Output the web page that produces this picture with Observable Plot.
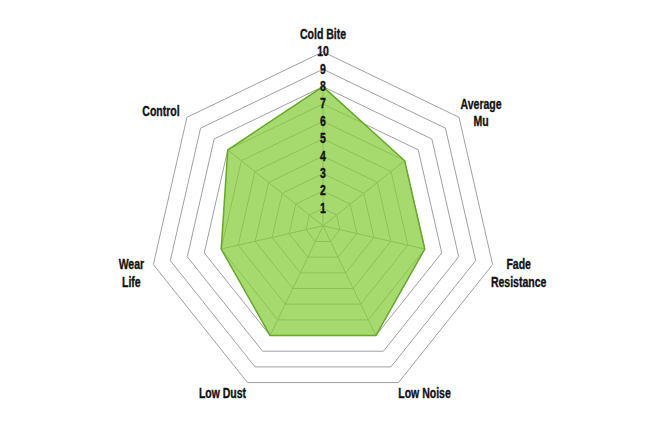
<!DOCTYPE html>
<html>
<head>
<meta charset="utf-8">
<script src="https://cdn.jsdelivr.net/npm/d3@7"></script>
<script src="https://cdn.jsdelivr.net/npm/@observablehq/plot@0.6"></script>
<style>
  html, body { margin: 0; padding: 0; background: #fff; }
  #chart svg { display: block; }
</style>
</head>
<body>
<div id="chart"></div>
<script>
// ---- data ----
const axisLabels = ["Cold Bite", "Average\nMu", "Fade\nResistance", "Low Noise", "Low Dust", "Wear\nLife", "Control"];
const scores = [8, 6, 6, 7, 7, 6, 7];
const tickValues = [1, 2, 3, 4, 5, 6, 7, 8, 9, 10];
const maxScore = 10;

// ---- layout ----
const W = 645, H = 430;
const unit = 17.4;            // px per score unit
const cx = 322.5, cy = 225.3; // pixel centre
const n = axisLabels.length;
const angle = i => (2 * Math.PI * i) / n;
const px = (i, r) => r * Math.sin(angle(i));
const py = (i, r) => r * Math.cos(angle(i));

// rings
const rings = [];
for (const t of tickValues) {
  for (let i = 0; i <= n; i++) rings.push({ring: t, x: px(i % n, t), y: py(i % n, t)});
}
// data polygon (closed)
const poly = scores.map((v, i) => ({x: px(i, v), y: py(i, v)}));
const closed = poly.concat([poly[0]]);
// spokes (to the data point)
const spokes = scores.map((v, i) => ({x2: px(i, v), y2: py(i, v)}));
// axis labels
const labelStyle = [
  {dx: 0, dy: -18},
  {dx: 22, dy: -5},
  {dx: 26, dy: 8},
  {dx: 26, dy: 10},
  {dx: -25, dy: 10},
  {dx: -22, dy: 8},
  {dx: -26, dy: -7}
];
const labels = axisLabels.map((l, i) => ({label: l, x: px(i, maxScore), y: py(i, maxScore), ...labelStyle[i]}));

const font = "'Liberation Sans', Arial, sans-serif";
const ink = "#111";

const chart = Plot.plot({
  width: W,
  height: H,
  margin: 0,
  x: {domain: [-cx / unit, (W - cx) / unit], axis: null},
  y: {domain: [-(H - cy) / unit, cy / unit], axis: null},
  style: {fontFamily: font, background: "#fff"},
  marks: [
    Plot.link(spokes, {x1: 0, y1: 0, x2: "x2", y2: "y2", stroke: "#999", strokeWidth: 1}),
    Plot.line(rings, {x: "x", y: "y", z: "ring", stroke: "#a0a0a0", strokeWidth: 1, curve: "linear"}),
    Plot.line(closed, {x: "x", y: "y", fill: "#88cc3e", fillOpacity: 0.75, stroke: "none", curve: "linear"}),
    Plot.line(closed, {x: "x", y: "y", stroke: "#66a82a", strokeWidth: 1.5, curve: "linear"}),
    Plot.text(tickValues, {x: 0, y: d => d, text: d => String(d), dy: 0, fontSize: 14, fontWeight: "bold", fill: ink, stroke: ink, strokeWidth: 0.35, textAnchor: "middle"}),
    ...labels.map(d => Plot.text([d], {x: "x", y: "y", text: "label", dx: d.dx, dy: d.dy, fontSize: 14, fontWeight: "bold", fill: ink, stroke: ink, strokeWidth: 0.35, textAnchor: "middle", lineHeight: 1.22}))
  ]
});

// condense the bold sans text horizontally to mimic a narrow face
d3.select(chart).selectAll("text").each(function() {
  const t = d3.select(this);
  const tr = t.attr("transform");
  if (tr) {
    t.attr("transform", tr + " scale(0.75,1)");
  } else {
    const x = +t.attr("x") || 0, y = +t.attr("y") || 0;
    t.attr("x", null).attr("y", null).attr("transform", `translate(${x},${y}) scale(0.75,1)`);
  }
});
document.getElementById("chart").appendChild(chart);
</script>
</body>
</html>
